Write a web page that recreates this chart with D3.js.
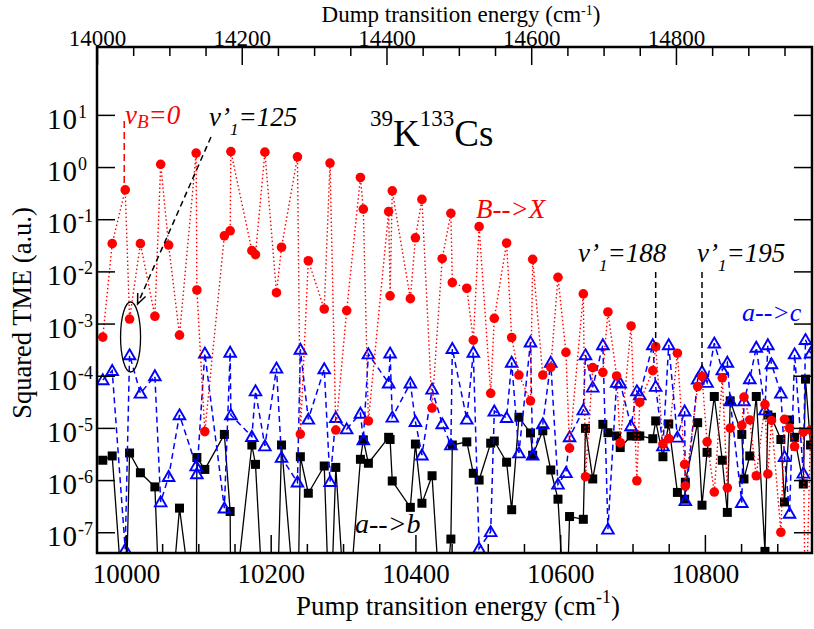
<!DOCTYPE html>
<html lang="en">
<head>
<meta charset="utf-8">
<title>KCs squared TME</title>
<script src="https://d3js.org/d3.v7.min.js"></script>
<style type="text/css">
	body { margin: 0; background: #fff; }
	.tick line { stroke-width: 1.5; }
</style>
</head>
<body>
<script type="text/javascript">
// Pump transition energies (cm-1), shared by the three series
var pump = [9968, 9981, 9999, 10005, 10020, 10040, 10048, 10059, 10074, 10097,
	10098, 10109, 10136, 10144, 10145, 10174, 10179, 10192, 10208, 10215,
	10237, 10241, 10252, 10274, 10282, 10290, 10305, 10324, 10328, 10335,
	10363, 10365, 10368, 10393, 10400, 10409, 10423, 10437, 10449, 10451,
	10471, 10480, 10488, 10504, 10509, 10526, 10533, 10543, 10559, 10562,
	10576, 10587, 10597, 10608, 10613, 10632, 10635, 10645, 10659, 10666,
	10678, 10683, 10698, 10706, 10710, 10728, 10732, 10742, 10750, 10762,
	10772, 10773, 10790, 10796, 10803, 10813, 10824, 10831, 10835, 10851,
	10854, 10862, 10871, 10883, 10887, 10892, 10905, 10910, 10917, 10924,
	10936, 10939, 10946];

// B-->X (red)
var tmeBX = [5.5e-4, 3.4e-2, 0.365, 1.22e-3, 3.4e-2, 1.38e-3, 1.13, 3.2e-2, 6.0e-4, 1.85,
	4.4e-3, 8.5e-6, 4.8e-2, 6.0e-2, 1.98, 2.5e-2, 2.1e-2, 1.93, 3.9e-3, 2.9e-2,
	1.57, 7.6e-6, 1.6e-2, 1.9e-3, 1.19, 9.1e-6, 1.77e-3, 0.63, 0.156, 1.36e-5,
	0.14, 3.4e-3, 0.35, 3.0e-3, 4.4e-2, 0.24, 2.4e-5, 1.75e-2, 0.13, 6.1e-3,
	4.75e-3, 4.8e-4, 7.2e-2, 4.6e-5, 1.26e-3, 3.5e-2, 5.4e-4, 1.03e-4, 3.3e-5, 1.7e-2,
	1.03e-4, 1.45e-4, 7.7e-3, 2.8e-4, 4.1e-6, 3.7e-3, 1.16e-6, 1.43e-4, 1.16e-4, 1.67e-3,
	9.9e-5, 5.2e-6, 9.0e-4, 9.7e-7, 3.1e-5, 1.25e-4, 3.6e-4, 4.9e-6, 6.2e-6, 2.7e-4,
	2.0e-6, 7.7e-7, 6.2e-5, 9.7e-5, 5.4e-6, 5.9e-7, 9.1e-5, 7.1e-7, 9.9e-6, 1.12e-5,
	3.9e-5, 1.42e-5, 1.21e-6, 2.8e-5, 1.31e-6, 1.39e-5, 1.0e-7, 1.46e-5, 9.9e-6, 4.4e-6,
	8.3e-6, 1e-9, 9.1e-6];

// a-->c (blue)
var tmeAC = [8.3e-5, 1.25e-4, 4.7e-8, 2.5e-4, 4.6e-5, 9.9e-5, 3.8e-7, 1.16e-6, 1.77e-5, 1.86e-6,
	1.31e-6, 2.7e-4, 2.9e-7, 2.8e-4, 1.77e-5, 6.8e-6, 5.1e-5, 4.5e-6, 1.39e-4, 2.7e-6,
	9.1e-7, 3.2e-4, 1.46e-5, 1.35e-4, 9.3e-7, 1.57e-5, 9.5e-6, 1.9e-5, 5.9e-6, 2.6e-4,
	7.2e-5, 2.7e-4, 1.6e-5, 7.2e-5, 1.32e-5, 3.0e-6, 5.5e-5, 1.19e-5, 4.7e-6, 3.3e-4,
	1.46e-5, 2.8e-4, 4.9e-8, 1.02e-7, 2.1e-5, 1.57e-5, 1.8e-4, 3.3e-6, 4.4e-4, 3.0e-6,
	1.19e-5, 1.8e-4, 8.3e-7, 1.38e-6, 6.7e-6, 2.2e-5, 2.5e-4, 6.0e-5, 3.9e-4, 1.14e-7,
	7.4e-5, 7.2e-5, 1.09e-5, 5.1e-5, 4.3e-5, 3.9e-4, 6.2e-5, 4.5e-6, 3.9e-4, 6.6e-6,
	2.1e-5, 4.0e-7, 8.6e-5, 1.2e-4, 7.4e-5, 4.2e-4, 1.29e-4, 1.8e-4, 3.3e-5, 3.7e-7,
	3.3e-5, 8.7e-5, 3.5e-4, 2.2e-5, 3.9e-4, 1.68e-4, 4.6e-5, 2.8e-6, 2.3e-7, 2.6e-4,
	1.35e-6, 4.9e-4, 2.7e-4];

// a-->b (black)
var tmeAB = [2.4e-6, 2.9e-6, 1e-9, 3.3e-6, 1.38e-6, 7.4e-7, 1e-9, 1e-9, 2.9e-7, 1e-9,
	2.7e-6, 1.6e-6, 7.5e-6, 2.5e-7, 1e-9, 4.7e-6, 2.0e-6, 1e-9, 1e-9, 4.7e-6,
	1e-9, 2.8e-6, 5.6e-7, 1.86e-6, 1e-9, 1.75e-6, 1e-9, 2.5e-6, 5.9e-6, 2.1e-6,
	6.6e-6, 6.0e-6, 9.6e-7, 3.0e-7, 4.9e-6, 3.6e-7, 1.21e-6, 1e-9, 7.4e-8, 4.7e-6,
	5.4e-6, 1.35e-6, 1.0e-6, 5.1e-6, 5.6e-6, 2.2e-6, 2.7e-7, 1.6e-5, 8.0e-6, 3.0e-6,
	8.8e-6, 1.56e-6, 4.3e-7, 1e-9, 2.0e-7, 1.77e-7, 9.8e-6, 1.05e-6, 1.17e-5, 8.1e-6,
	7.0e-6, 4.2e-6, 7.0e-6, 7.0e-6, 7.0e-6, 6.2e-6, 1.36e-5, 2.8e-6, 1.19e-5, 5.8e-7,
	4.3e-7, 9.1e-7, 1.26e-5, 3.3e-7, 3.4e-6, 4.0e-5, 2.4e-6, 2.4e-7, 3.3e-5, 7.5e-6,
	1.05e-6, 2.9e-6, 4.0e-5, 4.3e-8, 1.77e-5, 1.6e-5, 6.0e-6, 3.8e-7, 1.42e-5, 6.6e-6,
	8.4e-7, 8.6e-5, 4.7e-6];

// Tick labels
var pumpTicks = [10000, 10200, 10400, 10600, 10800];
var dumpTicks = [14000, 14200, 14400, 14600, 14800];
var yExponents = [1, 0, -1, -2, -3, -4, -5, -6, -7];

//Width and height
var w = 814;
var h = 629;
var margin = {top: 47, right: 2, bottom: 76, left: 97};

var svg = d3.select('body').append('svg').attr('width', w).attr('height', h)
	.style('font-family', '"Liberation Serif"');

//Create scale functions
var xScale = d3.scaleLinear().domain([9960, 10948]).range([margin.left, w - margin.right]);
var xTop = d3.scaleLinear().domain([14000, 14988]).range([margin.left, w - margin.right]);
var yScale = d3.scaleLog().domain([4e-8, 200]).range([h - margin.bottom, margin.top]);

var x0 = margin.left, x1 = w - margin.right, y0 = margin.top, y1 = h - margin.bottom;

svg.append('clipPath').attr('id', 'plot')
	.append('rect').attr('x', x0).attr('y', y0).attr('width', x1 - x0).attr('height', y1 - y0);

var plot = svg.append('g').attr('clip-path', 'url(#plot)');

var line = d3.line()
	.x((d, i) => xScale(pump[i]))
	.y(d => yScale(d));

// a-->b : black squares, solid line
plot.append('path').datum(tmeAB).attr('d', line)
	.attr('fill', 'none').attr('stroke', 'black').attr('stroke-width', 1.3);
plot.selectAll('rect.ab').data(tmeAB).enter().append('rect')
	.attr('class', 'ab')
	.attr('x', (d, i) => xScale(pump[i]) - 4.5)
	.attr('y', d => yScale(d) - 4.5)
	.attr('width', 9).attr('height', 9)
	.attr('fill', 'black');

// a-->c : open blue triangles, dashed line
plot.append('path').datum(tmeAC).attr('d', line)
	.attr('fill', 'none').attr('stroke', '#0000ff').attr('stroke-width', 1.5)
	.attr('stroke-dasharray', '6,4');
var tri = d3.symbol().type(d3.symbolTriangle).size(58);
plot.selectAll('path.ac').data(tmeAC).enter().append('path')
	.attr('class', 'ac')
	.attr('d', tri)
	.attr('transform', (d, i) => 'translate(' + xScale(pump[i]) + ',' + (yScale(d) + 1) + ')')
	.attr('fill', 'none').attr('stroke', '#0000ff').attr('stroke-width', 1.9);

// B-->X : red circles, dotted line
plot.append('path').datum(tmeBX).attr('d', line)
	.attr('fill', 'none').attr('stroke', '#ff0000').attr('stroke-width', 1.4)
	.attr('stroke-dasharray', '1.5,2.5');
plot.selectAll('circle.bx').data(tmeBX).enter().append('circle')
	.attr('class', 'bx')
	.attr('cx', (d, i) => xScale(pump[i]))
	.attr('cy', d => yScale(d))
	.attr('r', 4.8)
	.attr('fill', '#ff0000');

// Axes, ticks pointing inward
var minorPump = d3.range(9975, 10948, 25).filter(v => v % 50 == 0 && v % 200 != 0);
var minorDump = d3.range(14050, 14988, 50).filter(v => v % 200 != 0);

svg.append('g').attr('transform', 'translate(0,' + y1 + ')')
	.call(d3.axisBottom(xScale).tickValues(minorPump).tickSize(-9).tickSizeOuter(0).tickFormat(''));
svg.append('g').attr('transform', 'translate(0,' + y1 + ')')
	.call(d3.axisBottom(xScale).tickValues(pumpTicks).tickSize(-18).tickSizeOuter(0)
		.tickPadding(11).tickFormat(d3.format('d')))
	.attr('font-family', null).attr('font-size', 27)
	.selectAll('text').attr('fill', 'black');

svg.append('g').attr('transform', 'translate(0,' + y0 + ')')
	.call(d3.axisTop(xTop).tickValues(minorDump).tickSize(-9).tickSizeOuter(0).tickFormat(''));
svg.append('g').attr('transform', 'translate(0,' + y0 + ')')
	.call(d3.axisTop(xTop).tickValues(dumpTicks).tickSize(-18).tickSizeOuter(0)
		.tickPadding(1.5).tickFormat(d3.format('d')))
	.attr('font-family', null).attr('font-size', 23)
	.selectAll('text').attr('fill', 'black');

var yTicks = yExponents.map(e => Math.pow(10, e));
svg.append('g').attr('transform', 'translate(' + x0 + ',0)')
	.call(d3.axisLeft(yScale).tickValues(yTicks).tickSize(-18).tickSizeOuter(0).tickFormat(''));
svg.append('g').attr('transform', 'translate(' + x1 + ',0)')
	.call(d3.axisRight(yScale).tickValues(yTicks).tickSize(-18).tickSizeOuter(0).tickFormat(''));

svg.selectAll('.domain').remove();

// frame
svg.append('rect').attr('x', x0).attr('y', y0).attr('width', x1 - x0).attr('height', y1 - y0)
	.attr('fill', 'none').attr('stroke', 'black').attr('stroke-width', 2.5);

// y tick labels 10^n
var ylab = svg.selectAll('text.ylab').data(yExponents).enter().append('text')
	.attr('class', 'ylab')
	.attr('x', 47)
	.attr('y', d => yScale(Math.pow(10, d)) + 14)
	.attr('font-size', 29);
ylab.append('tspan').attr('letter-spacing', 1).text('10');
ylab.append('tspan').attr('dy', -11).attr('font-size', 18).text(d => d < 0 ? '-' + (-d) : d);

// rich text helper: parts = [text, 'sup'|'sub'|'']
function rich(x, y, parts, opts) {
	var t = svg.append('text').attr('x', x).attr('y', y)
		.attr('font-size', opts.size).attr('fill', opts.color || 'black')
		.attr('font-style', opts.italic ? 'italic' : 'normal')
		.attr('text-anchor', opts.anchor || 'start');
	var shift = 0;
	parts.forEach(function(p) {
		var target = p[1] == 'sup' ? -opts.sup : (p[1] == 'sub' ? opts.sub : 0);
		var s = t.append('tspan').attr('dy', target - shift).text(p[0]);
		if (p[1]) s.attr('font-size', opts.small);
		shift = target;
	});
	return t;
}

// axis titles
rich(458, 615, [['Pump transition energy (cm', ''], ['-1', 'sup'], [')', '']],
	{size: 27, small: 18, sup: 12, sub: 0, anchor: 'middle'});
rich(461, 21.5, [['Dump transition energy (cm', ''], ['-1', 'sup'], [')', '']],
	{size: 23, small: 14, sup: 7, sub: 0, anchor: 'middle'});
svg.append('text').attr('transform', 'translate(31,313) rotate(-90)')
	.attr('text-anchor', 'middle').attr('font-size', 26.5).text('Squared TME (a.u.)');

// molecule label
rich(370, 146, [['39', 'sup'], ['K', ''], ['133', 'sup'], ['Cs', '']],
	{size: 37, small: 23, sup: 20, sub: 0});

// series labels
rich(476, 218, [['B-->X', '']], {size: 27, color: '#ff0000', italic: true});
rich(742, 321, [['a-->c', '']], {size: 26, color: '#0000ff', italic: true});
rich(355, 533, [['a-->b', '']], {size: 28, italic: true});

// vB=0 marker
rich(125, 124, [['v', ''], ['B', 'sub'], ['=0', '']],
	{size: 27, small: 19, sub: 4, color: '#ff0000', italic: true});
svg.append('line')
	.attr('x1', xScale(pump[2]) - 1).attr('x2', xScale(pump[2]) - 1)
	.attr('y1', yScale(10) + 6).attr('y2', yScale(tmeBX[2]) - 6)
	.attr('stroke', '#ff0000').attr('stroke-width', 1.5).attr('stroke-dasharray', '7,4');

// v'1 labels
rich(209, 126, [['v’', ''], ['1', 'sub'], ['=125', '']], {size: 27, small: 17, sub: 9, italic: true});
rich(578, 262, [['v’', ''], ['1', 'sub'], ['=188', '']], {size: 27, small: 17, sub: 9, italic: true});
rich(697, 262, [['v’', ''], ['1', 'sub'], ['=195', '']], {size: 27, small: 17, sub: 9, italic: true});

svg.append('line')
	.attr('x1', xScale(pump[66])).attr('x2', xScale(pump[66]))
	.attr('y1', 272).attr('y2', yScale(tmeAC[66]) - 40)
	.attr('stroke', 'black').attr('stroke-width', 1.5).attr('stroke-dasharray', '6,4');
svg.append('line')
	.attr('x1', xScale(pump[73])).attr('x2', xScale(pump[73]))
	.attr('y1', 272).attr('y2', yScale(tmeAC[73]) - 4)
	.attr('stroke', 'black').attr('stroke-width', 1.5).attr('stroke-dasharray', '6,4');

// ellipse around the v'1=125 points, with arrow
var ex = xScale(pump[3]) + 1;
var ey = (yScale(tmeBX[3]) + yScale(tmeAC[3])) / 2;
svg.append('ellipse').attr('cx', ex).attr('cy', ey).attr('rx', 10).attr('ry', 35)
	.attr('fill', 'none').attr('stroke', 'black').attr('stroke-width', 1.3);

var ax1 = 211, ay1 = 137, ax2 = ex + 7, ay2 = ey - 33;
svg.append('line').attr('x1', ax1).attr('y1', ay1).attr('x2', ax2).attr('y2', ay2)
	.attr('stroke', 'black').attr('stroke-width', 1.5).attr('stroke-dasharray', '6,4');
var ang = Math.atan2(ay1 - ay2, ax1 - ax2);
var hl = 11;
svg.append('path')
	.attr('d', 'M' + (ax2 + hl * Math.cos(ang + 0.4)) + ',' + (ay2 + hl * Math.sin(ang + 0.4)) +
		'L' + ax2 + ',' + ay2 +
		'L' + (ax2 + hl * Math.cos(ang - 0.4)) + ',' + (ay2 + hl * Math.sin(ang - 0.4)))
	.attr('fill', 'none').attr('stroke', 'black').attr('stroke-width', 1.5);
</script>
</body>
</html>
